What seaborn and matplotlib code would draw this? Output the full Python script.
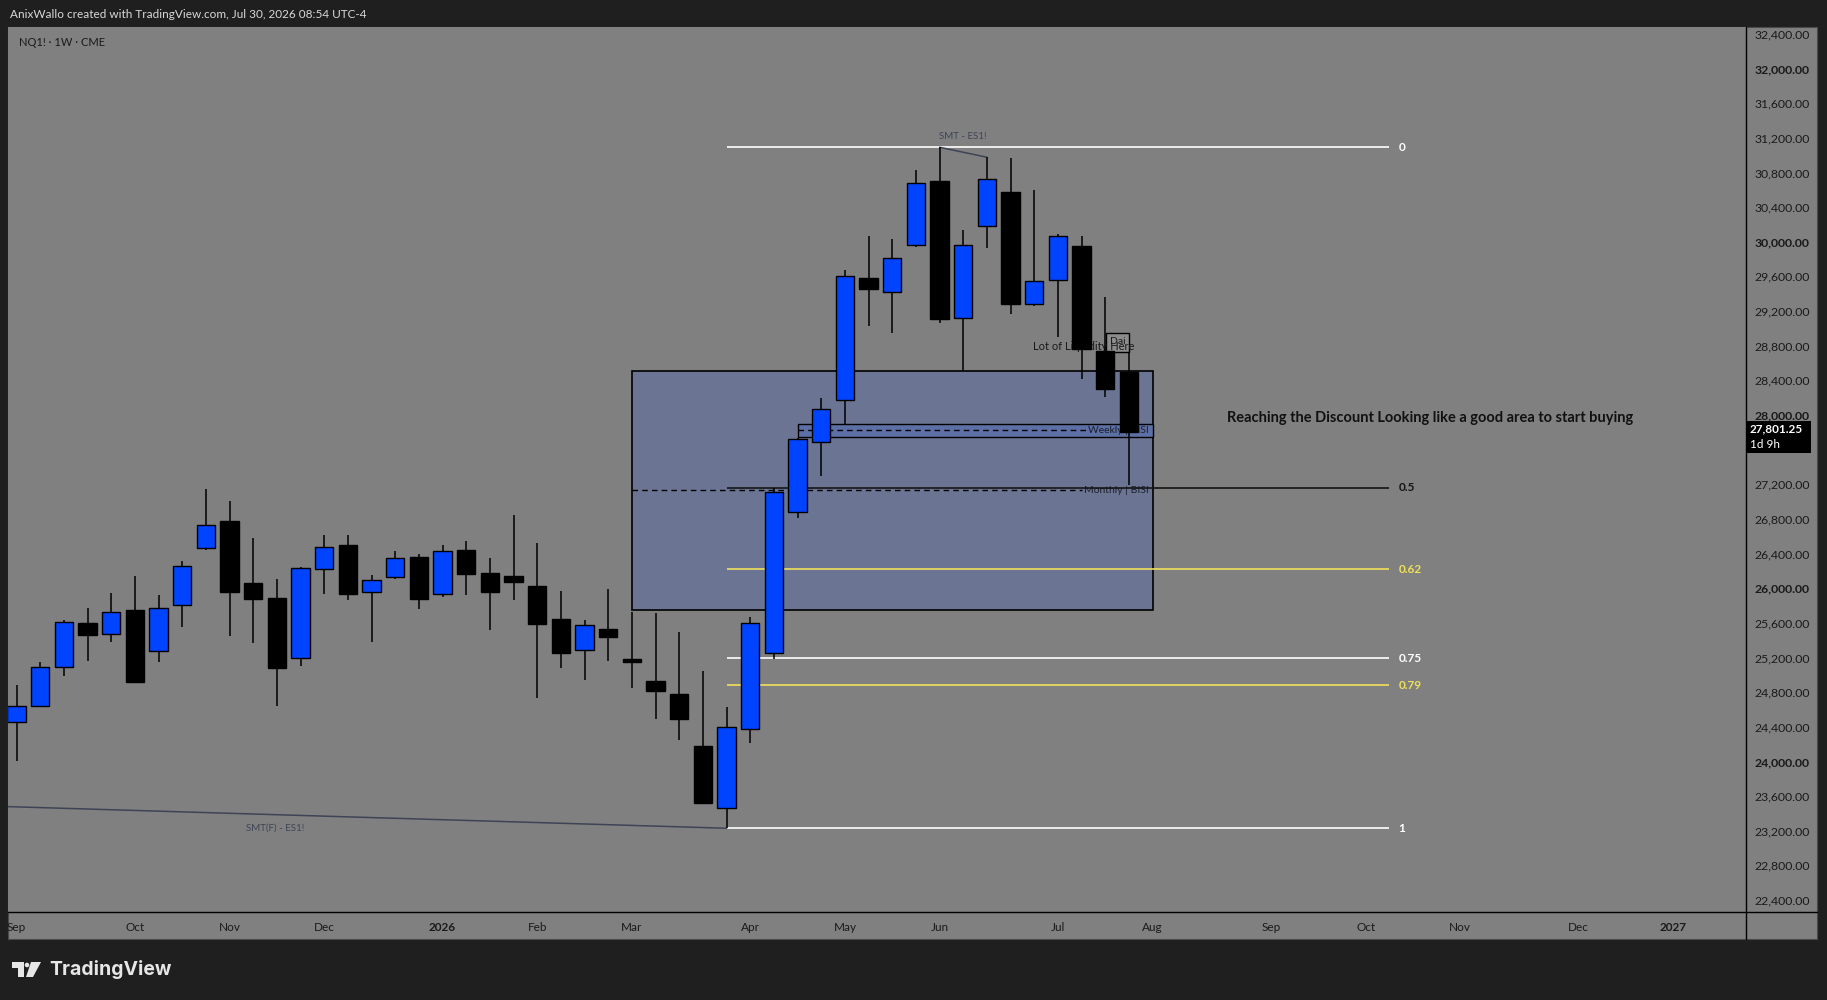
import numpy as np
import pandas as pd
import seaborn as sns
import matplotlib.pyplot as plt
import matplotlib.dates as mdates
from matplotlib.patches import Rectangle, Ellipse, Polygon
from matplotlib.lines import Line2D

sns.set_style('white')
plt.rcParams['font.family'] = ['Lato', 'DejaVu Sans']

W, H = 1827, 1000

# weekly NQ1! candles (Mon-dated weeks)
week_start = pd.date_range('2025-09-01', periods=48, freq='W-MON')
opens = [24459, 24643, 25094, 25595, 25468, 25748, 25279, 25802, 26461, 26776,
         26056, 25883, 25191, 26218, 26495, 25960, 26126, 26357, 25929, 26441,
         26172, 26141, 26025, 25641, 25283, 25525, 25183, 24928, 24775, 24174,
         23459, 24371, 25248, 26876, 27685, 28173, 29578, 29417, 29960, 30702,
         29124, 30186, 30575, 29278, 29555, 29951, 28736, 28500]
highs = [24882, 25144, 25633, 25771, 25945, 26141, 25922, 26318, 27146, 27007,
         26580, 26106, 26248, 26614, 26614, 26152, 26430, 26391, 26495, 26545,
         26349, 26845, 26522, 25968, 25633, 25991, 25725, 25714, 25494, 25044,
         24628, 25664, 27154, 27740, 28193, 29674, 30067, 30032, 30829, 31091,
         30136, 30976, 30964, 30598, 30087, 30067, 29366, 28731]
lows = [24005, 24632, 24986, 25163, 25379, 24910, 25152, 25556, 26441, 25452,
        25371, 24643, 25105, 25937, 25867, 25382, 26111, 25764, 25902, 25925,
        25517, 25864, 24736, 25082, 24944, 25163, 24851, 24493, 24251, 23516,
        23228, 24216, 25183, 26814, 27299, 27896, 29031, 28950, 29940, 29066,
        28508, 29925, 29163, 29260, 28904, 28412, 28211, 27192]
closes = [24643, 25094, 25606, 25463, 25721, 24921, 25768, 26253, 26726, 25960,
          25879, 25082, 26230, 26472, 25937, 26091, 26345, 25879, 26426, 26168,
          25960, 26075, 25590, 25255, 25572, 25440, 25151, 24817, 24486, 23523,
          24401, 25602, 27114, 27719, 28066, 29608, 29451, 29809, 30675, 29112,
          29960, 30722, 29278, 29544, 30063, 28759, 28297, 27801.25]

# fib retracement (swing high -> swing low)
fib_high, fib_low = 31091, 23228
fib_levels = [0, 0.5, 0.62, 0.75, 0.79, 1]
fib_labels = ['0', '0.5', '0.62', '0.75', '0.79', '1']
fib_colors = ['white', '#151515', '#f0e05a', 'white', '#f0e05a', 'white']

# zones
zone_top, zone_bottom = 28508, 25748
weekly_top, weekly_bottom, weekly_mid = 27896, 27743, 27823
monthly_mid = 27130

# SMT lines
smt_dates = ['2026-06-01', '2026-06-15']
smt_prices = [31091, 30976]
smtf_dates = ['2025-08-25', '2026-03-30']
smtf_prices = [23483, 23228]

month_ticks = ['2025-09-01', '2025-10-06', '2025-11-03', '2025-12-01', '2026-01-05',
               '2026-02-02', '2026-03-02', '2026-04-06', '2026-05-04', '2026-06-01',
               '2026-07-06', '2026-08-03', '2026-09-07', '2026-10-05', '2026-11-02',
               '2026-12-07', '2027-01-04']
month_labels = ['Sep', 'Oct', 'Nov', 'Dec', '2026', 'Feb', 'Mar', 'Apr', 'May', 'Jun',
                'Jul', 'Aug', 'Sep', 'Oct', 'Nov', 'Dec', '2027']
price_ticks = list(range(22400, 32401, 400))

last_price = '27,801.25'


def fx(p):
    return p / W


def fy(p):
    return 1 - p / H


def d(s):
    return mdates.date2num(pd.Timestamp(s))


fig = plt.figure(figsize=(W / 100, H / 100), dpi=100, facecolor='#1f1f1f')

# chart panel background (incl. price/time scales)
bg = fig.add_axes([fx(8), fy(939), fx(1817 - 8), (939 - 27) / H])
bg.set_facecolor('#808080')
bg.set_xticks([])
bg.set_yticks([])
for s in bg.spines.values():
    s.set_color('#4a4a4a')
    s.set_linewidth(0.8)

ax = fig.add_axes([fx(8), fy(912), fx(1746 - 8), (912 - 27) / H])
ax.set_facecolor('#808080')
for s in ax.spines.values():
    s.set_visible(False)

x0 = d('2025-09-01')
ax.set_xlim(x0 - 2.54, x0 + 511.5)
ax.set_ylim(22261, 32480)

df = pd.DataFrame({'date': week_start, 'open': opens, 'high': highs,
                   'low': lows, 'close': closes})
df['x'] = mdates.date2num(df['date'])
df['up'] = df['close'] >= df['open']

# zones
zl, zr = d('2026-03-02'), d('2026-08-03')
ax.add_patch(Rectangle((zl, zone_bottom), zr - zl, zone_top - zone_bottom,
                       fc='#6b7593', ec='black', lw=1.2, zorder=1))
wl = d('2026-04-20')
ax.add_patch(Rectangle((wl, weekly_bottom), zr - wl, weekly_top - weekly_bottom,
                       fc='#5d70a6', ec='black', lw=1, zorder=2))
ax.hlines(weekly_mid, wl, zr - 19, colors='black', lw=1, linestyles=(0, (4, 3)), zorder=3)
ax.text(zr - 1.2, weekly_mid, 'Weekly | BISI', ha='right', va='center',
        fontsize=7.5, color='#1c1f2b', zorder=3)
ax.hlines(monthly_mid, zl, zr - 21, colors='black', lw=1, linestyles=(0, (4, 3)), zorder=3)
ax.text(zr - 1.2, monthly_mid, 'Monthly | BISI', ha='right', va='center',
        fontsize=7.5, color='#1c1f2b', zorder=3)

# fib levels
fl, fr = d('2026-03-30'), d('2026-10-12')
for lvl, lab, col in zip(fib_levels, fib_labels, fib_colors):
    y = fib_high - lvl * (fib_high - fib_low)
    ax.hlines(y, fl, fr, colors=col, lw=1.2, zorder=3)
    ax.text(fr + 2.7, y, lab, ha='left', va='center', fontsize=8.5,
            color=col, fontweight='bold', zorder=3)

# SMT lines
sns.lineplot(x=mdates.date2num(pd.to_datetime(smt_dates)), y=smt_prices, ax=ax,
             color='#3e4456', lw=1.1, zorder=4)
sns.lineplot(x=mdates.date2num(pd.to_datetime(smtf_dates)), y=smtf_prices, ax=ax,
             color='#3e4456', lw=1.1, zorder=4)
ax.text(x0 + 279.9, 31214, 'SMT - ES1!', ha='center', va='center', fontsize=7,
        color='#3e4456', zorder=4)
ax.text(x0 + 76.6, 23228, 'SMT(F) - ES1!', ha='center', va='center', fontsize=7,
        color='#3e4456', zorder=4)

# notes
ax.add_patch(Rectangle((x0 + 322.1, 28731), 7.0, 212, fc='#8c8c8c', ec='black',
                       lw=1, zorder=4))
ax.text(x0 + 325.6, 28850, 'Dai', ha='center', va='center', fontsize=7.5,
        color='#1a1a1a', zorder=4.2)
ax.text(x0 + 300.5, 28789, 'Lot of Liquidity Here', ha='left', va='center',
        fontsize=8, color='#1a1a1a', zorder=4.5)
ax.text(x0 + 357.9, 27969, 'Reaching the Discount Looking like a good area to start buying',
        ha='left', va='center', fontsize=10.5, fontweight='bold', color='#111111', zorder=4)

# candles
ax.vlines(df['x'], df['low'], df['high'], colors='black', lw=1.1, zorder=5)
ax.bar(df['x'], df['close'] - df['open'], bottom=df['open'], width=5.4,
       color=np.where(df['up'], '#0044ff', 'black'), edgecolor='black', lw=1, zorder=6)

# scales
ax.yaxis.tick_right()
shown = [p for p in price_ticks if p != 27600]
ax.set_yticks(shown)
ax.set_yticklabels([f'{p:,.2f}' for p in shown])
for lbl, p in zip(ax.get_yticklabels(), shown):
    if p % 2000 == 0:
        lbl.set_fontweight('bold')
ax.tick_params(axis='y', length=0, pad=6, labelsize=8.8, labelcolor='#1a1a1a')

ax.set_xticks([d(t) for t in month_ticks])
ax.set_xticklabels(month_labels)
for lbl in ax.get_xticklabels():
    if lbl.get_text().isdigit():
        lbl.set_fontweight('bold')
ax.tick_params(axis='x', length=0, pad=7, labelsize=8.5, labelcolor='#1a1a1a')

# scale separators
fig.add_artist(Line2D([fx(1746), fx(1746)], [fy(27), fy(939)], color='black', lw=1))
fig.add_artist(Line2D([fx(8), fx(1817)], [fy(912), fy(912)], color='black', lw=1))

# last price tag
fig.add_artist(Rectangle((fx(1746), fy(453)), fx(65), 32 / H, fc='black', ec='none',
                         transform=fig.transFigure))
fig.text(fx(1750), fy(429), last_price, ha='left', va='center', fontsize=8.5,
         fontweight='bold', color='white')
fig.text(fx(1750), fy(444), '1d 9h', ha='left', va='center', fontsize=8.5, color='white')

# header
fig.text(fx(10), fy(14), 'AnixWallo created with TradingView.com, Jul 30, 2026 08:54 UTC-4',
         ha='left', va='center', fontsize=8.5, color='#d9d9d9')
fig.text(fx(18.6), fy(42.7), 'NQ1! · 1W · CME', ha='left', va='center', fontsize=8,
         color='#1a1a1a')

# footer logo
logo = '#e6e6e6'
fig.add_artist(Polygon([(fx(12), fy(962)), (fx(24), fy(962)), (fx(24), fy(977)),
                        (fx(18), fy(977)), (fx(18), fy(968)), (fx(12), fy(968))],
                       closed=True, fc=logo, ec='none', transform=fig.transFigure))
fig.add_artist(Ellipse((fx(27), fy(965)), 4.6 / W, 4.6 / H, fc=logo, ec='none',
                       transform=fig.transFigure))
fig.add_artist(Polygon([(fx(31), fy(962)), (fx(41), fy(962)), (fx(33), fy(977)),
                        (fx(26), fy(977))], closed=True, fc=logo, ec='none',
                       transform=fig.transFigure))
fig.text(fx(49), fy(969.5), 'TradingView', ha='left', va='center', fontsize=14,
         fontweight='bold', family=['Inter', 'DejaVu Sans'], color=logo)

fig.savefig('out.png', dpi=100, facecolor=fig.get_facecolor())
